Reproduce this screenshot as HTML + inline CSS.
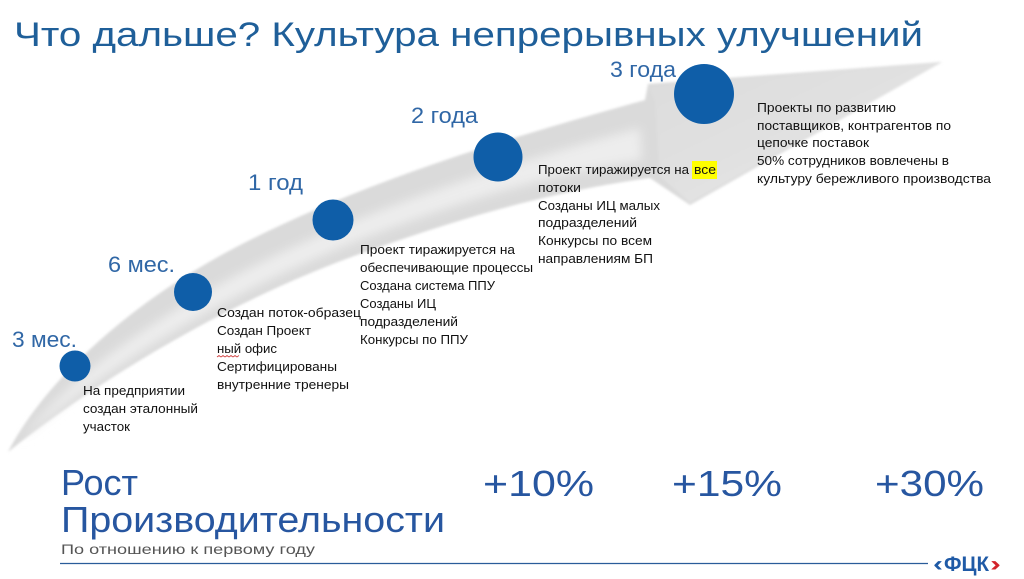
<!DOCTYPE html>
<html>
<head>
<meta charset="utf-8">
<style>
  html,body{margin:0;padding:0;background:#ffffff;}
  body{width:1024px;height:579px;overflow:hidden;}
  svg{display:block;}
  .t{font-family:"Liberation Sans","DejaVu Sans",sans-serif;}
</style>
</head>
<body>
<svg width="1024" height="579" viewBox="0 0 1024 579" xmlns="http://www.w3.org/2000/svg">
  <defs>
    <filter id="soft" x="-5%" y="-5%" width="110%" height="110%">
      <feGaussianBlur stdDeviation="1.2"/>
    </filter>
    <filter id="soft2" x="-10%" y="-10%" width="120%" height="120%">
      <feGaussianBlur stdDeviation="5"/>
    </filter>
    <linearGradient id="headg" x1="0" y1="0" x2="1" y2="1">
      <stop offset="0" stop-color="#dcdcdc"/>
      <stop offset="1" stop-color="#e6e6e6"/>
    </linearGradient>
  </defs>
  <rect width="1024" height="579" fill="#ffffff"/>

  <!-- swoosh arrow -->
  <g filter="url(#soft)">
    <path d="M8,452 C40,390 120,305 250,240 S520,135 645,100 L648,84 L942,62 L690,205 L650,178 C560,190 470,215 380,247 C250,290 110,370 8,452 Z" fill="#dadada"/>
    <path d="M648,86 L940,63 L690,203 L660,176 L655,100 Z" fill="url(#headg)"/>
  </g>
  <path d="M22,440 C60,385 150,318 262,262 S520,160 640,128 L642,160 C540,176 450,205 370,236 C240,286 110,362 22,440 Z" fill="#ededed" filter="url(#soft2)"/>

  <!-- title -->
  <text class="t" x="14" y="46" font-size="34" fill="#1f5f99" textLength="909" lengthAdjust="spacingAndGlyphs">Что дальше? Культура непрерывных улучшений</text>

  <!-- circles -->
  <g fill="#0f5ea8">
    <circle cx="75" cy="366" r="15.5"/>
    <circle cx="193" cy="292" r="19"/>
    <circle cx="333" cy="220" r="20.5"/>
    <circle cx="498" cy="157" r="24.5"/>
    <circle cx="704" cy="94" r="30"/>
  </g>

  <!-- milestone labels -->
  <g class="t" font-size="22" fill="#3067a6">
    <text x="12" y="347" textLength="65" lengthAdjust="spacingAndGlyphs">3 мес.</text>
    <text x="108" y="272" textLength="67" lengthAdjust="spacingAndGlyphs">6 мес.</text>
    <text x="248" y="190" textLength="55" lengthAdjust="spacingAndGlyphs">1 год</text>
    <text x="411" y="123" textLength="67" lengthAdjust="spacingAndGlyphs">2 года</text>
    <text x="610" y="77" textLength="66" lengthAdjust="spacingAndGlyphs">3 года</text>
  </g>

  <!-- body text blocks -->
  <g class="t" font-size="13" fill="#111111">
    <text x="83" y="395" textLength="102" lengthAdjust="spacingAndGlyphs">На предприятии</text>
    <text x="83" y="413" textLength="115" lengthAdjust="spacingAndGlyphs">создан эталонный</text>
    <text x="83" y="431" textLength="47" lengthAdjust="spacingAndGlyphs">участок</text>

    <text x="217" y="317" textLength="144" lengthAdjust="spacingAndGlyphs">Создан поток-образец</text>
    <text x="217" y="335" textLength="94" lengthAdjust="spacingAndGlyphs">Создан Проект</text>
    <text x="217" y="353" textLength="60" lengthAdjust="spacingAndGlyphs">ный офис</text>
    <text x="217" y="371" textLength="120" lengthAdjust="spacingAndGlyphs">Сертифицированы</text>
    <text x="217" y="389" textLength="132" lengthAdjust="spacingAndGlyphs">внутренние тренеры</text>

    <text x="360" y="254" textLength="155" lengthAdjust="spacingAndGlyphs">Проект тиражируется на</text>
    <text x="360" y="272" textLength="173" lengthAdjust="spacingAndGlyphs">обеспечивающие процессы</text>
    <text x="360" y="290" textLength="135" lengthAdjust="spacingAndGlyphs">Создана система ППУ</text>
    <text x="360" y="308" textLength="76" lengthAdjust="spacingAndGlyphs">Созданы ИЦ</text>
    <text x="360" y="326" textLength="98" lengthAdjust="spacingAndGlyphs">подразделений</text>
    <text x="360" y="344" textLength="108" lengthAdjust="spacingAndGlyphs">Конкурсы по  ППУ</text>
  </g>

  <!-- yellow highlight -->
  <rect x="692" y="161" width="25" height="18" fill="#ffff00"/>

  <g class="t" font-size="13" fill="#111111">
    <text x="538" y="174" textLength="151" lengthAdjust="spacingAndGlyphs">Проект тиражируется на</text>
    <text x="694" y="174" textLength="22" lengthAdjust="spacingAndGlyphs">все</text>
    <text x="538" y="192" textLength="43" lengthAdjust="spacingAndGlyphs">потоки</text>
    <text x="538" y="210" textLength="122" lengthAdjust="spacingAndGlyphs">Созданы ИЦ малых</text>
    <text x="538" y="227" textLength="99" lengthAdjust="spacingAndGlyphs">подразделений</text>
    <text x="538" y="245" textLength="114" lengthAdjust="spacingAndGlyphs">Конкурсы по всем</text>
    <text x="538" y="263" textLength="115" lengthAdjust="spacingAndGlyphs">направлениям БП</text>

    <text x="757" y="112" textLength="139" lengthAdjust="spacingAndGlyphs">Проекты по развитию</text>
    <text x="757" y="130" textLength="194" lengthAdjust="spacingAndGlyphs">поставщиков, контрагентов по</text>
    <text x="757" y="147" textLength="112" lengthAdjust="spacingAndGlyphs">цепочке поставок</text>
    <text x="757" y="165" textLength="192" lengthAdjust="spacingAndGlyphs">50% сотрудников вовлечены в</text>
    <text x="757" y="183" textLength="234" lengthAdjust="spacingAndGlyphs">культуру бережливого производства</text>
  </g>

  <!-- spellcheck squiggle -->
  <path d="M217,357 l2,-1.5 l2,1.5 l2,-1.5 l2,1.5 l2,-1.5 l2,1.5 l2,-1.5 l2,1.5 l2,-1.5 l2,1.5 l2,-1.5" fill="none" stroke="#d04040" stroke-width="0.8"/>

  <!-- bottom -->
  <g class="t" font-size="36" fill="#2756a0">
    <text x="61" y="495" textLength="77" lengthAdjust="spacingAndGlyphs">Рост</text>
    <text x="61" y="532" textLength="384" lengthAdjust="spacingAndGlyphs">Производительности</text>
    <text x="483" y="496" textLength="111" lengthAdjust="spacingAndGlyphs">+10%</text>
    <text x="672" y="496" textLength="110" lengthAdjust="spacingAndGlyphs">+15%</text>
    <text x="875" y="496" textLength="109" lengthAdjust="spacingAndGlyphs">+30%</text>
  </g>
  <text class="t" x="61" y="554" font-size="14" fill="#555555" textLength="254" lengthAdjust="spacingAndGlyphs">По отношению к первому году</text>
  <line x1="60" y1="563.5" x2="928" y2="563.5" stroke="#2a5c9a" stroke-width="1.3"/>

  <!-- logo -->
  <g class="t" font-weight="bold" font-size="21">
    <text x="933" y="571" fill="#1f5aa6" textLength="10" lengthAdjust="spacingAndGlyphs">‹</text>
    <text x="944" y="571" fill="#1f5aa6" textLength="45" lengthAdjust="spacingAndGlyphs">ФЦК</text>
    <text x="990" y="571" fill="#d2232a" textLength="11" lengthAdjust="spacingAndGlyphs">›</text>
  </g>
</svg>
</body>
</html>
